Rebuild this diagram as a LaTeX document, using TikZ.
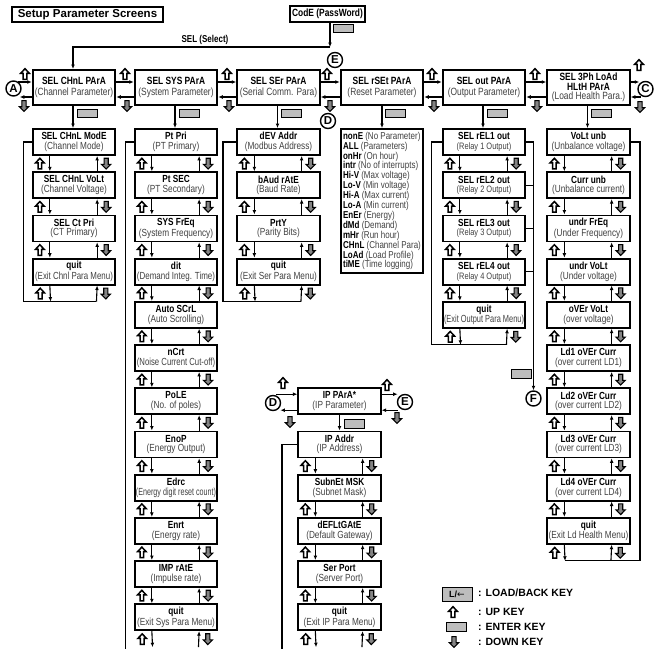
\documentclass[tikz,border=0pt]{standalone}
\usepackage{fontspec}
\setmainfont{Liberation Sans}[FakeStretch=0.8]
\newfontfamily\plainfont{Liberation Sans}
\newfontfamily\symfont{DejaVu Sans}
\usepackage{graphicx}
\usetikzlibrary{arrows.meta, calc}

\definecolor{descgray}{gray}{0.25}
\definecolor{keygray}{gray}{0.74}

\tikzset{
  topbox/.style={draw, line width=2pt, minimum width=82.5pt, minimum height=35pt,
    inner sep=0pt, align=center, font=\fontsize{10.5}{11.5}\selectfont},
  subbox/.style={draw, line width=1.8pt, minimum width=82.5pt, minimum height=26pt,
    inner sep=0pt, align=center, font=\fontsize{10.3}{9.6}\selectfont},
  ghost/.style={minimum width=82.5pt, minimum height=26pt, inner sep=0pt},
  letter/.style={circle, draw, line width=1.4pt, minimum size=15pt, inner sep=0pt,
    font=\plainfont\bfseries\fontsize{11.5}{11.5}\selectfont},
  arr/.style={-{Latex[length=4.5pt,width=3.8pt]}, line width=1.1pt},
  loopline/.style={line width=1.2pt},
  upkey/.pic={\draw[line width=1.5pt, fill=white, line join=miter]
    (0,-5.3) -- (4.3,-0.7) -- (1.8,-0.7) -- (1.8,5.3) -- (-1.8,5.3) -- (-1.8,-0.7) -- (-4.3,-0.7) -- cycle;},
  dnkey/.pic={\draw[line width=1.1pt, fill=keygray!70!black, line join=miter]
    (0,5.4) -- (4.6,0.7) -- (2.1,0.7) -- (2.1,-5.4) -- (-2.1,-5.4) -- (-2.1,0.7) -- (-4.6,0.7) -- cycle;},
  enterkey/.pic={\draw[line width=0.9pt, fill=keygray] (-10,-4.3) rectangle (10,4.3);}
}

% up/down keys between two stacked screens
\newcommand{\keypair}[2]{%
  \draw[arr] ($(#1.south west)+(18,0)$) -- ($(#2.north west)+(18,0)$);
  \draw[arr] ($(#2.north east)+(-19,0)$) -- ($(#1.south east)+(-19,0)$);
  \pic at ($(#1.south west)!0.5!(#2.north west)+(8,0)$) {upkey};
  \pic at ($(#1.south east)!0.5!(#2.north east)+(-10,0)$) {dnkey};
}
% left/right arrows between two screens of the top row
\newcommand{\sidepair}[2]{%
  \draw[arr] ($(#1.east)+(0,-5.5)$) -- ($(#2.west)+(0,-5.5)$);
  \draw[arr] ($(#2.west)+(0,9.5)$) -- ($(#1.east)+(0,9.5)$);
}
\newcommand{\subtxt}[1]{{\mdseries\color{descgray}#1}}
\newcommand{\subsmall}[1]{{\mdseries\color{descgray}\fontsize{9.3}{9.6}\selectfont#1}}
\newcommand{\squeeze}[2]{\scalebox{#1}[1]{#2}}

\begin{document}
\begin{tikzpicture}[x=1pt, y=-1pt]
  \useasboundingbox (0,0) rectangle (656,648);
  % Title and password screen
  \node[draw, line width=1.3pt, minimum width=151pt, minimum height=15pt, inner sep=0pt,
    font=\plainfont\bfseries\fontsize{11.5}{11.5}\selectfont] (title) at (87.5,14.5) {Setup Parameter Screens};
  \node[draw, line width=2pt, minimum width=75pt, minimum height=16pt, inner sep=0pt,
    font=\bfseries\fontsize{10.5}{10.5}\selectfont] (code) at (327.5,14) {CodE (PassWord)};
  \pic at (343,28.5) {enterkey};
  \coordinate (sel) at (330,47);
  \node[font=\bfseries\fontsize{10}{10}\selectfont] (seltxt) at (205,40) {SEL (Select)};

  % Top row of menus
  \node[topbox] (chnl) at (74,87.5) {\textbf{SEL CHnL PArA}\\\subtxt{(Channel Parameter)}};
  \node[topbox] (sys) at (176,87.5) {\textbf{SEL SYS PArA}\\\subtxt{(System Parameter)}};
  \node[topbox] (ser) at (278.5,87.5) {\textbf{SEL SEr PArA}\\\subtxt{(Serial Comm. Para)}};
  \node[topbox] (rset) at (382,87.5) {\textbf{SEL rSEt PArA}\\\subtxt{(Reset Parameter)}};
  \node[topbox] (out) at (484,87.5) {\textbf{SEL out PArA}\\\subtxt{(Output Parameter)}};
  \node[topbox, font=\fontsize{10.5}{9.5}\selectfont] (load) at (588.5,87.5)
    {\textbf{SEL 3Ph LoAd}\\\textbf{HLtH PArA}\\\subtxt{(Load Health Para.)}};
  \draw[arr] (code.south -| sel) -- (sel);
  \draw[arr] (sel) -| ([xshift=-1pt]chnl.north);

  % Link letters of the top row
  \node[letter] (ca) at (13.5,88.5) {A};
  \node[letter] (cc) at (645.5,89) {C};
  \node[letter] (ce) at (335,60) {E};
  \node[letter] (cd) at (328,121) {D};
  \draw[arr] ($(chnl.west)+(-14,-5.5)$) -- ($(chnl.west)+(0,-5.5)$);
  \draw[arr] ($(chnl.west)+(0,9.5)$) -- ++(-12,0);
  \draw[arr] ($(load.east)+(0,-5.5)$) -- ++(8.5,0);
  \draw[arr] ($(load.east)+(10,9.5)$) -- ($(load.east)+(0,9.5)$);
  \sidepair{chnl}{sys}
  \sidepair{sys}{ser}
  \sidepair{ser}{rset}
  \sidepair{rset}{out}
  \sidepair{out}{load}
  % keys of the top row
  \pic at (25,74) {upkey};   \pic at (24,106) {dnkey};
  \pic at (125,74) {upkey};  \pic at (127,106) {dnkey};
  \pic at (227,74) {upkey};  \pic at (229,106) {dnkey};
  \pic at (327,74) {upkey};  \pic at (330,106) {dnkey};
  \pic at (432,74) {upkey};  \pic at (434,106) {dnkey};
  \pic at (535,74) {upkey};  \pic at (537,106) {dnkey};
  \pic at (639,65) {upkey};  \pic at (640,107) {dnkey};

  % Channel parameter screens
  \node[subbox] (ch1) at (74,142) {\textbf{SEL CHnL ModE}\\\subtxt{(Channel Mode)}};
  \node[subbox] (ch2) at (74,185.2) {\textbf{SEL CHnL VoLt}\\\subtxt{(Channel Voltage)}};
  \node[subbox] (ch3) at (74,228.4) {\textbf{SEL Ct Pri}\\\subtxt{(CT Primary)}};
  \node[subbox] (ch4) at (74,271.6) {\textbf{quit}\\\subtxt{\squeeze{0.96}{(Exit Chnl Para Menu)}}};
  \node[ghost] (ch5) at (74,314.8) {};
  \draw[arr] ([xshift=-1pt]chnl.south) -- ([xshift=-1pt]ch1.north);
  \pic at ($(chnl.south)+(13,7.5)$) {enterkey};
  \keypair{ch1}{ch2} \keypair{ch2}{ch3} \keypair{ch3}{ch4} \keypair{ch4}{ch5}
  \draw[loopline] ($(ch5.north east)+(-19,0)$) -- ($(ch5.north west)+(-9,0)$) |- (ch1.west);

  % System parameter screens
  \node[subbox] (sy1) at (176,142) {\textbf{Pt Pri}\\\subtxt{(PT Primary)}};
  \node[subbox] (sy2) at (176,185.2) {\textbf{Pt SEC}\\\subtxt{(PT Secondary)}};
  \node[subbox] (sy3) at (176,228.4) {\textbf{SYS FrEq}\\\subtxt{(System Frequency)}};
  \node[subbox] (sy4) at (176,271.6) {\textbf{dit}\\\subtxt{\squeeze{0.97}{(Demand Integ. Time)}}};
  \node[subbox] (sy5) at (176,314.8) {\textbf{Auto SCrL}\\\subtxt{(Auto Scrolling)}};
  \node[subbox] (sy6) at (176,358) {\textbf{nCrt}\\\subtxt{\squeeze{0.94}{(Noise Current Cut-off)}}};
  \node[subbox] (sy7) at (176,401.2) {\textbf{PoLE}\\\subtxt{(No. of poles)}};
  \node[subbox] (sy8) at (176,444.4) {\textbf{EnoP}\\\subtxt{(Energy Output)}};
  \node[subbox] (sy9) at (176,487.6) {\textbf{Edrc}\\\subtxt{\squeeze{0.87}{(Energy digit reset count)}}};
  \node[subbox] (sy10) at (176,530.8) {\textbf{Enrt}\\\subtxt{(Energy rate)}};
  \node[subbox] (sy11) at (176,574) {\textbf{IMP rAtE}\\\subtxt{(Impulse rate)}};
  \node[subbox] (sy12) at (176,617.2) {\textbf{quit}\\\subtxt{(Exit Sys Para Menu)}};
  \node[ghost] (sy13) at (176,660.4) {};
  \draw[arr] ([xshift=-1pt]sys.south) -- ([xshift=-1pt]sy1.north);
  \pic at ($(sys.south)+(13,7.5)$) {enterkey};
  \keypair{sy1}{sy2} \keypair{sy2}{sy3} \keypair{sy3}{sy4} \keypair{sy4}{sy5}
  \keypair{sy5}{sy6} \keypair{sy6}{sy7} \keypair{sy7}{sy8} \keypair{sy8}{sy9}
  \keypair{sy9}{sy10} \keypair{sy10}{sy11} \keypair{sy11}{sy12} \keypair{sy12}{sy13}
  \draw[loopline] ($(sy13.north west)+(-9,3)$) |- (sy1.west);

  % Serial parameter screens
  \node[subbox] (se1) at (278.5,142) {\textbf{dEV Addr}\\\subtxt{(Modbus Address)}};
  \node[subbox] (se2) at (278.5,185.2) {\textbf{bAud rAtE}\\\subtxt{(Baud Rate)}};
  \node[subbox] (se3) at (278.5,228.4) {\textbf{PrtY}\\\subtxt{(Parity Bits)}};
  \node[subbox] (se4) at (278.5,271.6) {\textbf{quit}\\\subtxt{(Exit Ser Para Menu)}};
  \node[ghost] (se5) at (278.5,314.8) {};
  \draw[arr] ([xshift=-1pt]ser.south) -- ([xshift=-1pt]se1.north);
  \pic at ($(ser.south)+(13,7.5)$) {enterkey};
  \keypair{se1}{se2} \keypair{se2}{se3} \keypair{se3}{se4} \keypair{se4}{se5}
  \draw[loopline] ($(se5.north east)+(-19,0)$) -- ($(se5.north west)+(-14,0)$) |- (se1.west);

  % Reset parameter list
  \node[draw, line width=1.8pt, minimum width=82pt, minimum height=144pt, inner sep=0pt,
    align=left, font=\fontsize{10}{9.9}\selectfont] (rlist) at (382,201)
    {\textbf{nonE} \subtxt{(No Parameter)}\\
     \textbf{ALL} \subtxt{(Parameters)}\\
     \textbf{onHr} \subtxt{(On hour)}\\
     \textbf{intr} \subtxt{(No of interrupts)}\\
     \textbf{Hi-V} \subtxt{(Max voltage)}\\
     \textbf{Lo-V} \subtxt{(Min voltage)}\\
     \textbf{Hi-A} \subtxt{(Max current)}\\
     \textbf{Lo-A} \subtxt{(Min current)}\\
     \textbf{EnEr} \subtxt{(Energy)}\\
     \textbf{dMd} \subtxt{(Demand)}\\
     \textbf{mHr} \subtxt{(Run hour)}\\
     \textbf{CHnL} \subtxt{(Channel Para)}\\
     \textbf{LoAd} \subtxt{(Load Profile)}\\
     \textbf{tiME} \subtxt{(Time logging)}};
  \draw[arr] (rset.south) -- (rlist.north);
  \pic at ($(rset.south)+(13.5,7.5)$) {enterkey};

  % Output parameter screens
  \node[subbox] (ou1) at (484,142) {\textbf{SEL rEL1 out}\\\subsmall{(Relay 1 Output)}};
  \node[subbox] (ou2) at (484,185.2) {\textbf{SEL rEL2 out}\\\subsmall{(Relay 2 Output)}};
  \node[subbox] (ou3) at (484,228.4) {\textbf{SEL rEL3 out}\\\subsmall{(Relay 3 Output)}};
  \node[subbox] (ou4) at (484,271.6) {\textbf{SEL rEL4 out}\\\subsmall{(Relay 4 Output)}};
  \node[subbox] (ou5) at (484,314.8) {\textbf{quit}\\\subtxt{\squeeze{0.9}{(Exit Output Para Menu)}}};
  \node[ghost] (ou6) at (484,358) {};
  \draw[arr] ([xshift=-1pt]out.south) -- ([xshift=-1pt]ou1.north);
  \pic at ($(out.south)+(13,7.5)$) {enterkey};
  \keypair{ou1}{ou2} \keypair{ou2}{ou3} \keypair{ou3}{ou4} \keypair{ou4}{ou5} \keypair{ou5}{ou6}
  \draw[loopline] ($(ou6.north east)+(-19,0)$) -- ($(ou6.north west)+(-11,0)$) |- (ou1.west);
  % relay screens lead to F
  \node[letter] (cf) at (533.5,398.5) {F};
  \draw[arr] (ou1.east) -| (cf.north);
  \draw[loopline] (ou2.east) -- (ou2.east -| cf.north);
  \draw[loopline] (ou3.east) -- (ou3.east -| cf.north);
  \draw[loopline] (ou4.east) -- (ou4.east -| cf.north);
  \pic at (521,374) {enterkey};

  % Load health screens
  \node[subbox] (ld1) at (588.5,142) {\textbf{VoLt unb}\\\subtxt{(Unbalance voltage)}};
  \node[subbox] (ld2) at (588.5,185.2) {\textbf{Curr unb}\\\subtxt{(Unbalance current)}};
  \node[subbox] (ld3) at (588.5,228.4) {\textbf{undr FrEq}\\\subtxt{(Under Frequency)}};
  \node[subbox] (ld4) at (588.5,271.6) {\textbf{undr VoLt}\\\subtxt{(Under voltage)}};
  \node[subbox] (ld5) at (588.5,314.8) {\textbf{oVEr VoLt}\\\subtxt{(over voltage)}};
  \node[subbox] (ld6) at (588.5,358) {\textbf{Ld1 oVEr Curr}\\\subtxt{(over current LD1)}};
  \node[subbox] (ld7) at (588.5,401.2) {\textbf{Ld2 oVEr Curr}\\\subtxt{(over current LD2)}};
  \node[subbox] (ld8) at (588.5,444.4) {\textbf{Ld3 oVEr Curr}\\\subtxt{(over current LD3)}};
  \node[subbox] (ld9) at (588.5,487.6) {\textbf{Ld4 oVEr Curr}\\\subtxt{(over current LD4)}};
  \node[subbox] (ld10) at (588.5,530.8) {\textbf{quit}\\\subtxt{(Exit Ld Health Menu)}};
  \node[ghost] (ld11) at (588.5,574) {};
  \draw[arr] ([xshift=-1pt]load.south) -- ([xshift=-1pt]ld1.north);
  \pic at ($(load.south)+(13,7.5)$) {enterkey};
  \keypair{ld1}{ld2} \keypair{ld2}{ld3} \keypair{ld3}{ld4} \keypair{ld4}{ld5} \keypair{ld5}{ld6}
  \keypair{ld6}{ld7} \keypair{ld7}{ld8} \keypair{ld8}{ld9} \keypair{ld9}{ld10} \keypair{ld10}{ld11}
  \draw[loopline] ($(ld11.north west)+(18,0)$) -- ($(ld11.north east)+(10,0)$) |- (ld1.east);

  % IP parameter screens
  \node[subbox] (ip0) at (339.5,401.2) {\textbf{IP PArA*}\\\subtxt{(IP Parameter)}};
  \node[letter] (cd2) at (273,403) {D};
  \node[letter] (ce2) at (405,402) {E};
  \draw[arr] ($(ip0.west)+(-21,-7)$) -- ($(ip0.west)+(0,-7)$);
  \draw[arr] ($(ip0.west)+(0,9)$) -- ++(-17,0);
  \draw[arr] ($(ip0.east)+(0,-7)$) -- ++(16,0);
  \draw[arr] ($(ip0.east)+(16,9)$) -- ($(ip0.east)+(0,9)$);
  \pic at (283,383) {upkey};  \pic at (290,422) {dnkey};
  \pic at (387,385) {upkey};  \pic at (397,418) {dnkey};
  \node[subbox] (ip1) at (339.5,444.4) {\textbf{IP Addr}\\\subtxt{(IP Address)}};
  \node[subbox] (ip2) at (339.5,487.6) {\textbf{SubnEt MSK}\\\subtxt{(Subnet Mask)}};
  \node[subbox] (ip3) at (339.5,530.8) {\textbf{dEFLtGAtE}\\\subtxt{(Default Gateway)}};
  \node[subbox] (ip4) at (339.5,574) {\textbf{Ser Port}\\\subtxt{(Server Port)}};
  \node[subbox] (ip5) at (339.5,617.2) {\textbf{quit}\\\subtxt{(Exit IP Para Menu)}};
  \node[ghost] (ip6) at (339.5,660.4) {};
  \draw[arr] (ip0.south) -- (ip1.north);
  \pic at ($(ip0.south)+(14.5,9)$) {enterkey};
  \keypair{ip1}{ip2} \keypair{ip2}{ip3} \keypair{ip3}{ip4} \keypair{ip4}{ip5} \keypair{ip5}{ip6}
  \draw[loopline] ($(ip6.north west)+(-16,3)$) |- (ip1.west);

  % Legend
  \node[draw, line width=1pt, fill=keygray, minimum width=30pt, minimum height=14pt, inner sep=0pt,
    font=\plainfont\bfseries\fontsize{9}{9}\selectfont] (lkey) at (457,594) {L/{\symfont\mdseries ←}};
  \pic at (453,612) {upkey};
  \pic at (456,627) {enterkey};
  \pic at (454,642) {dnkey};
  \node[anchor=west, inner sep=0pt, font=\plainfont\bfseries\fontsize{10.5}{10.5}\selectfont] (lgload) at (478,593) {: LOAD/BACK KEY};
  \node[anchor=west, inner sep=0pt, font=\plainfont\bfseries\fontsize{10.5}{10.5}\selectfont] (lgup) at (478,612) {: UP KEY};
  \node[anchor=west, inner sep=0pt, font=\plainfont\bfseries\fontsize{10.5}{10.5}\selectfont] (lgenter) at (478,627) {: ENTER KEY};
  \node[anchor=west, inner sep=0pt, font=\plainfont\bfseries\fontsize{10.5}{10.5}\selectfont] (lgdown) at (478,642) {: DOWN KEY};
\end{tikzpicture}
\end{document}
